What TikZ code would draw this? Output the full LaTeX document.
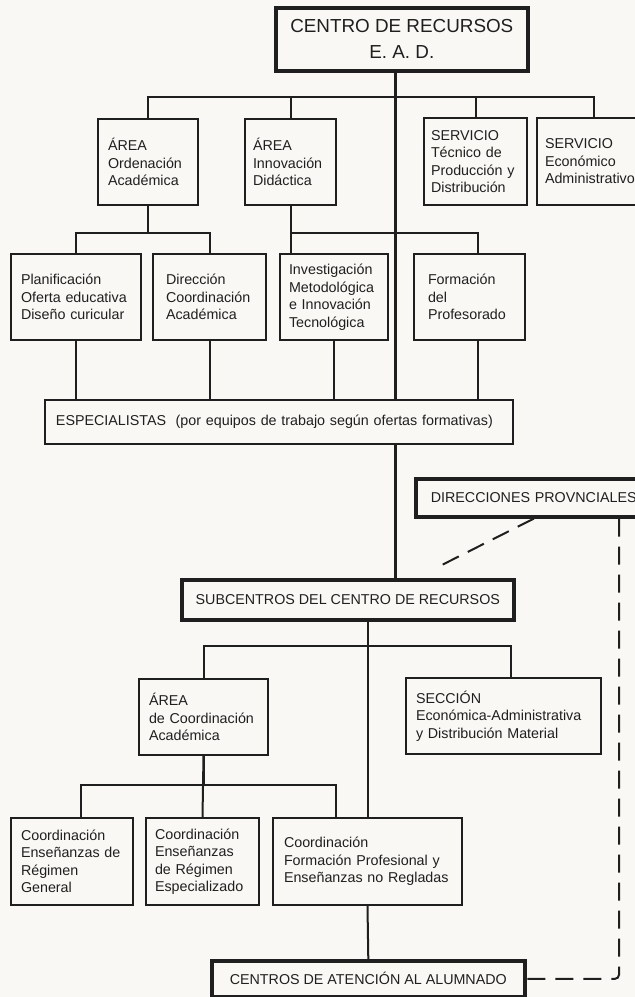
\documentclass[tikz,border=0pt]{standalone}
\usepackage{fontspec}
\setmainfont{Liberation Sans}
\usetikzlibrary{calc}
\definecolor{paper}{HTML}{F9F8F4}
\definecolor{ink}{HTML}{1F1F1F}
\tikzset{
  unit/.style={draw=ink, line width=2pt, fill=paper, text=ink, anchor=north west,
    inner ysep=0pt, inner xsep=10pt, align=left, font=\fontsize{14.3}{17.5}\selectfont},
  headunit/.style={unit, line width=3.6pt, align=center, inner xsep=0pt},
  link/.style={draw=ink, line width=2pt},
  trunkline/.style={link, line width=3pt},
  dashline/.style={link, dash pattern=on 18pt off 10pt},
}

\begin{document}
\begin{tikzpicture}[x=1pt, y=-1pt]
\useasboundingbox (0,0) rectangle (635,997);
\clip (0,0) rectangle (635,997);
\fill[paper] (0,0) rectangle (635,997);

% centro y primer nivel
\node[headunit, minimum width=252pt, minimum height=63pt,
  font=\fontsize{18.85}{26}\selectfont] (centro) at (274,6) {CENTRO DE RECURSOS\\E. A. D.};
\node[unit, text width=80pt, minimum height=86pt] (ordenacion) at (97,118) {ÁREA\\Ordenación\\Académica};
\node[unit, inner xsep=8pt, text width=75pt, minimum height=86pt] (innovacion) at (244,118) {ÁREA\\Innovación\\Didáctica};
\node[unit, inner xsep=7pt, text width=89pt, minimum height=87pt] (tecnico) at (423,117) {SERVICIO\\Técnico de\\Producción y\\Distribución};
\node[unit, inner xsep=8pt, text width=98pt, minimum height=87pt] (economico) at (536,117) {SERVICIO\\Económico\\Administrativo};

% segundo nivel
\node[unit, text width=110pt, minimum height=86pt] (planif) at (10,253) {Planificación\\Oferta educativa\\Diseño curicular};
\node[unit, inner xsep=13pt, text width=87pt, minimum height=86pt] (direccion) at (152,253) {Dirección\\Coordinación\\Académica};
\node[unit, inner xsep=9pt, text width=90pt, minimum height=86pt] (investig) at (279,253) {Investigación\\Metodológica\\e Innovación\\Tecnológica};
\node[unit, inner xsep=14pt, text width=83pt, minimum height=86pt] (formacion) at (413,253) {Formación\\del\\Profesorado};

\node[unit, inner xsep=11pt, text width=446pt, minimum height=44pt] (espec) at (44,399)
  {ESPECIALISTAS\ \ (por equipos de trabajo según ofertas formativas)};
\node[unit, line width=3.6pt, inner xsep=15pt, text width=206pt, minimum height=38pt] (direcciones) at (414,477)
  {DIRECCIONES PROVNCIALES};

% subcentros
\node[headunit, minimum width=332pt, minimum height=40pt] (subcentros) at (180,578) {SUBCENTROS DEL CENTRO DE RECURSOS};
\node[unit, text width=109pt, minimum height=76pt] (areacoord) at (138,678) {ÁREA\\de Coordinación\\Académica};
\node[unit, text width=175pt, minimum height=76pt] (seccion) at (405,677) {SECCIÓN\\Económica-Administrativa\\y Distribución Material};

\node[unit, text width=102pt, minimum height=87pt] (general) at (10,817) {Coordinación\\Enseñanzas de\\Régimen\\General};
\node[unit, inner xsep=9pt, text width=95pt, minimum height=87pt] (especializado) at (145,817) {Coordinación\\Enseñanzas\\de Régimen\\Especializado};
\node[unit, inner xsep=11pt, text width=167pt, minimum height=87pt] (fp) at (272,817) {Coordinación\\Formación Profesional y\\Enseñanzas no Regladas};

\node[headunit, minimum width=313pt, minimum height=36pt] (centros) at (210,959) {CENTROS DE ATENCIÓN AL ALUMNADO};

% columnas de las conexiones
\coordinate (trunk) at (395,0);
\coordinate (dcol) at (619,0);
\coordinate (fcol) at ([shift={(8.5,0)}]formacion.north);
\coordinate (scol) at ([shift={(7,0)}]seccion.north);
\coordinate (gcol) at ([shift={(9,0)}]general.north);
\coordinate (pcol) at ([shift={(-32,0)}]fp.north);

% tronco
\draw[trunkline] (centro.south -| trunk) -- (espec.north -| trunk);
\draw[trunkline] (espec.south -| trunk) -- (subcentros.north -| trunk);

% primer nivel
\draw[link] (ordenacion.north) -- ++(0,-21) -| (economico.north);
\draw[link] (innovacion.north) -- ++(0,-21);
\draw[link] (tecnico.north) -- ++(0,-21);

% segundo nivel
\draw[link] (ordenacion.south) -- ++(0,27) coordinate (jord);
\draw[link] (planif.north) |- (jord) -| (direccion.north);
\draw[link] (innovacion.south) -- (innovacion.south |- investig.north);
\draw[link] (innovacion.south) -- ++(0,27) -| (fcol);

\draw[link] (planif.south) -- (planif.south |- espec.north);
\draw[link] (direccion.south) -- (direccion.south |- espec.north);
\draw[link] (investig.south) -- (investig.south |- espec.north);
\draw[link] (fcol |- formacion.south) -- (fcol |- espec.north);

% subcentros
\draw[link] (subcentros.south -| fp.north) -- (fp.north);
\draw[link] (areacoord.north) -- ++(0,-32) -| (scol);
\draw[link] (areacoord.south) -- (especializado.north);
\draw[link] (areacoord.south) -- ++(0,29) coordinate (jarea);
\draw[link] (gcol) |- (jarea) -| (pcol);
\draw[link] (fp.south) -- (centros.north);

% direcciones provinciales
\draw[dashline] (direcciones.south) -- ([shift={(94,-13)}]subcentros.north);
\draw[dashline, rounded corners=4pt] (dcol |- direcciones.south) |- (centros.east);
\end{tikzpicture}
\end{document}
